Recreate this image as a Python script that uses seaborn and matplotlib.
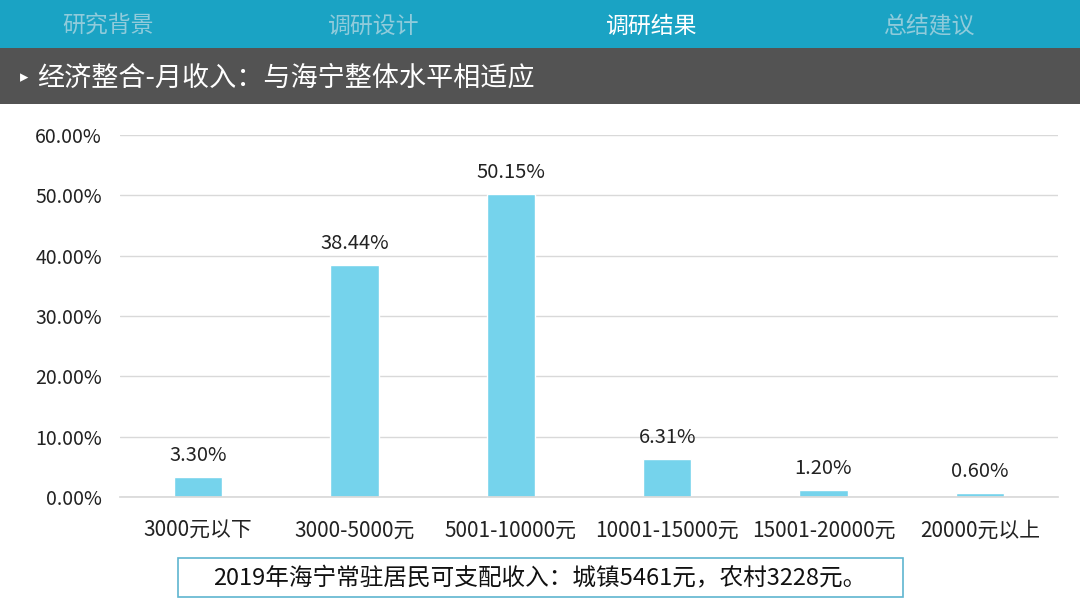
import matplotlib
matplotlib.use("Agg")
import matplotlib.pyplot as plt
import seaborn as sns
import pandas as pd
from matplotlib.patches import Rectangle

categories = ["3000元以下", "3000-5000元", "5001-10000元", "10001-15000元", "15001-20000元", "20000元以上"]
shares = [3.30, 38.44, 50.15, 6.31, 1.20, 0.60]
yticks = [0, 10, 20, 30, 40, 50, 60]
tabs = ["研究背景", "调研设计", "调研结果", "总结建议"]
active_tab = "调研结果"
title = "经济整合-月收入：与海宁整体水平相适应"
note = "2019年海宁常驻居民可支配收入：城镇5461元，农村3228元。"

sns.set_theme(style="white")
plt.rcParams['font.family'] = ['Noto Sans CJK SC', 'DejaVu Sans']

fig = plt.figure(figsize=(10.8, 6.08), dpi=100)
W, H = 1080, 608

def fx(px): return px / W
def fy(py): return 1 - py / H

# header bar
fig.patches.append(Rectangle((0, fy(48)), 1, 48 / H, transform=fig.transFigure,
                             facecolor="#1AA3C4", edgecolor="none", zorder=0))
tab_x = [108, 373, 651, 929]
for t, x in zip(tabs, tab_x):
    fig.text(fx(x), fy(26), t, ha="center", va="center", fontsize=16.5,
             color="white" if t == active_tab else "#90CBDB")
# dark title band
fig.patches.append(Rectangle((0, fy(104)), 1, 56 / H, transform=fig.transFigure,
                             facecolor="#535353", edgecolor="none", zorder=0))
fig.text(fx(20), fy(77), "▸", ha="left", va="center", fontsize=12, color="white",
         family=['DejaVu Sans'])
fig.text(fx(37), fy(78), title, ha="left", va="center", fontsize=19.5, color="white")

# chart axes
x0, x1 = 120, 1058
y_top, y_bot = 135, 497
ax = fig.add_axes([fx(x0), fy(y_bot), fx(x1 - x0), (y_bot - y_top) / H])
df = pd.DataFrame({"cat": categories, "val": shares})
sns.barplot(data=df, x="cat", y="val", color="#75D3EC", saturation=1, width=0.31, ax=ax)
ax.set_ylim(0, 60)
ax.set_xlim(-0.5, len(categories) - 0.5)
ax.set_yticks(yticks)
ax.set_yticklabels([f"{v:.2f}%" for v in yticks])
ax.yaxis.grid(True, color="#D9D9D9", linewidth=1)
ax.set_axisbelow(True)
for s in ax.spines.values():
    s.set_visible(False)
ax.spines["bottom"].set_visible(True)
ax.spines["bottom"].set_color("#D9D9D9")
ax.set_xlabel("")
ax.set_ylabel("")
ax.tick_params(axis="y", labelsize=14, colors="#222222", pad=13, length=0)
ax.tick_params(axis="x", labelsize=15, colors="#222222", pad=16, length=0)
for bar, v in zip(ax.patches, shares):
    ax.annotate(f"{v:.2f}%", (bar.get_x() + bar.get_width() / 2, v),
                xytext=(0, 8), textcoords="offset points", ha="center", va="bottom",
                fontsize=14.5, color="#222222")

# note box
fig.patches.append(Rectangle((fx(178), fy(597)), fx(903 - 178), 39 / H, transform=fig.transFigure,
                             facecolor="white", edgecolor="#5FB5D0", linewidth=1.2))
fig.text(fx(540), fy(579), note, ha="center", va="center", fontsize=17, color="#111111")

fig.savefig("out.png", dpi=100)
